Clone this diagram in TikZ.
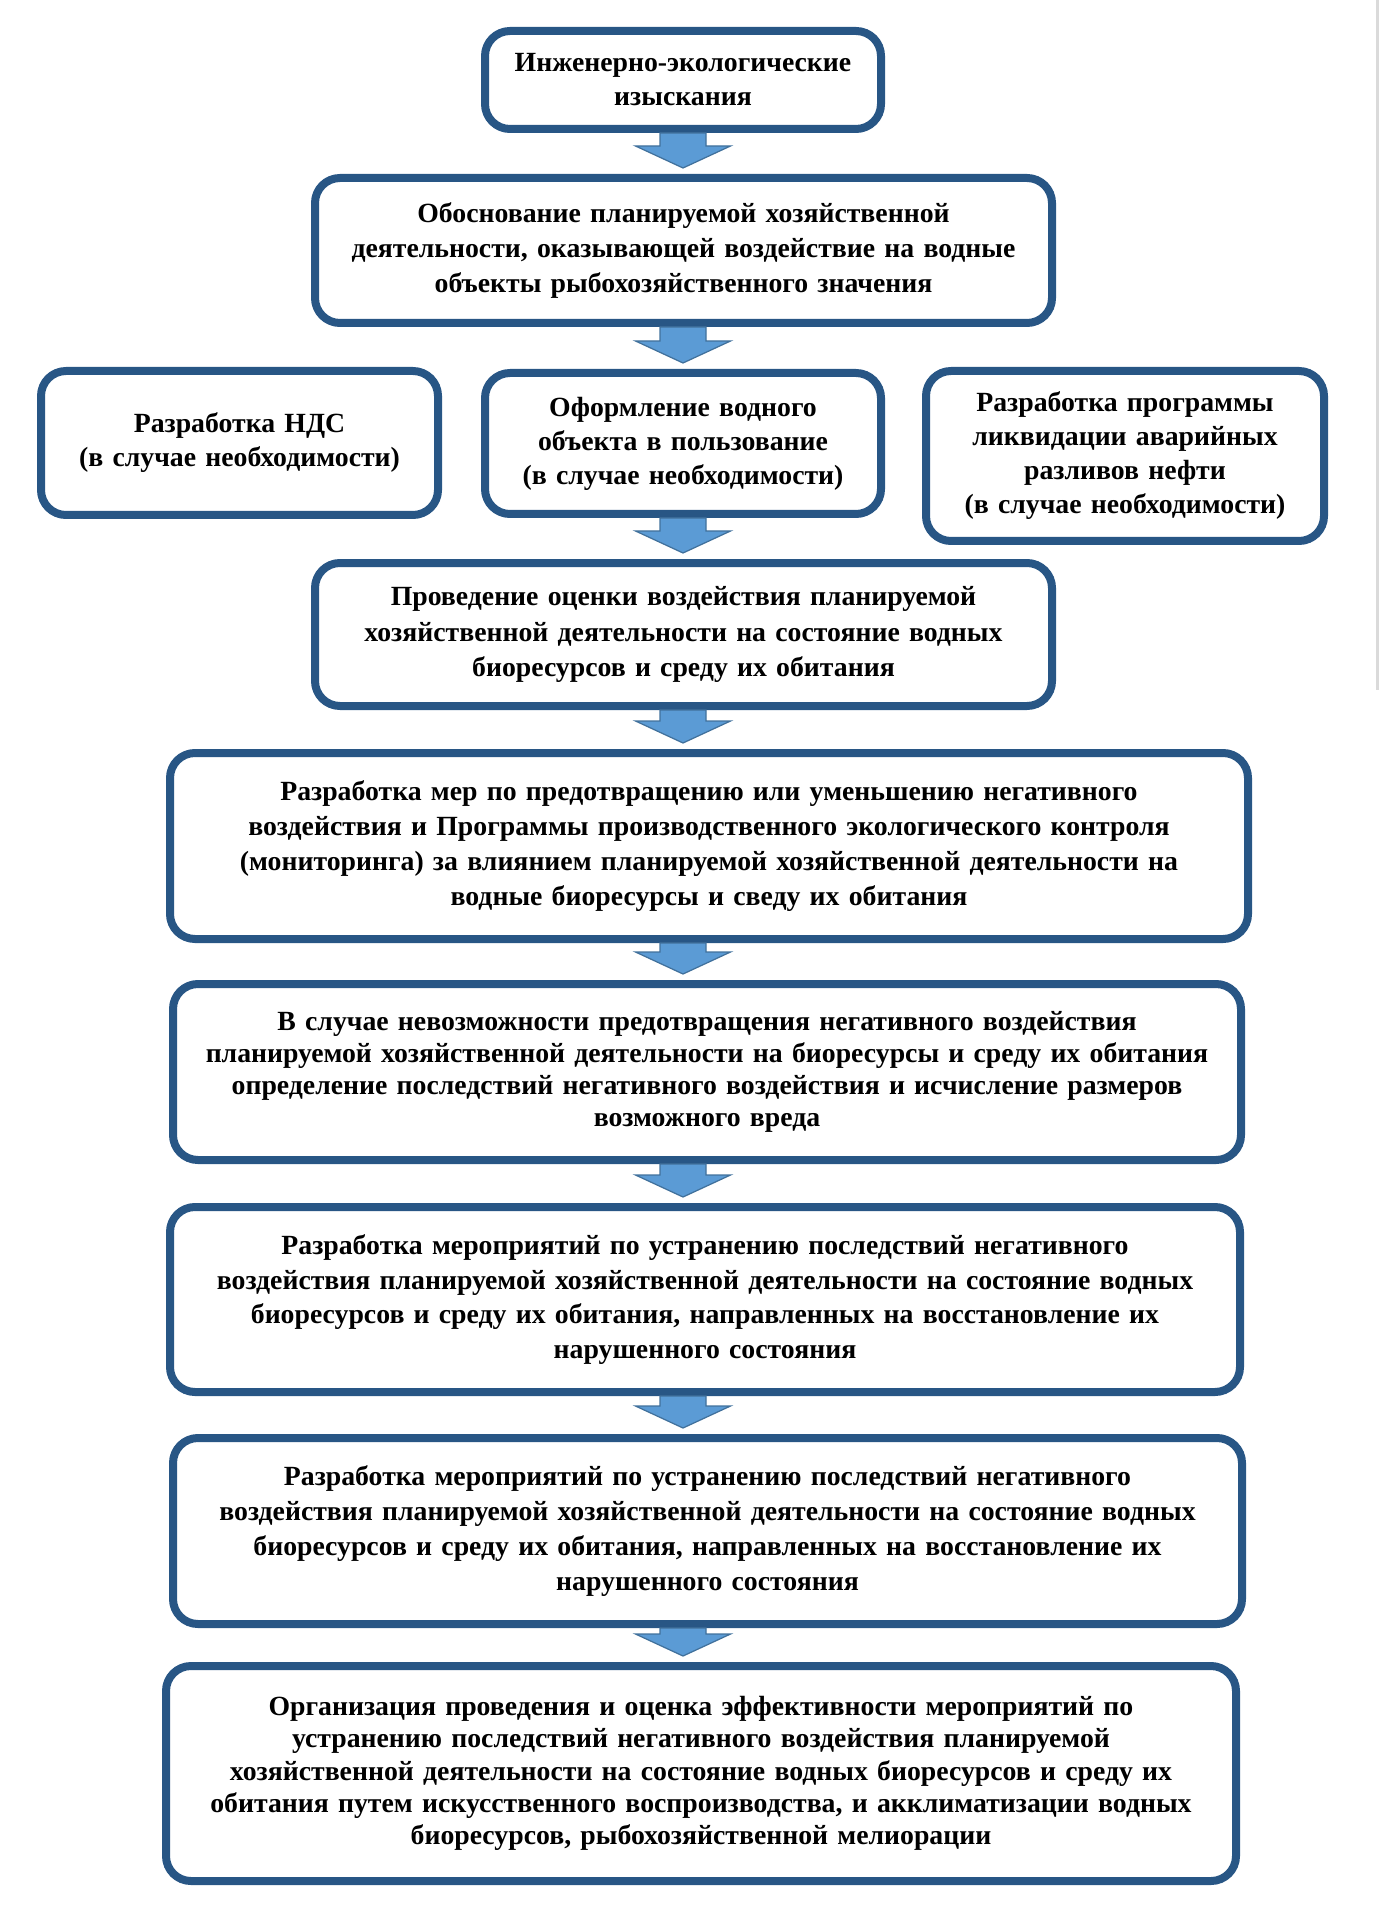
\documentclass[tikz,border=0pt]{standalone}
\usepackage{fontspec}
\setmainfont{Liberation Serif}
\usetikzlibrary{calc}
\definecolor{boxline}{HTML}{285685}
\definecolor{arrfill}{HTML}{5B9BD5}
\definecolor{arrline}{HTML}{41719C}
\definecolor{edgegray}{HTML}{DADADA}
\newcommand\fatarrow[2]{%
  \path[draw=arrline,fill=arrfill,line width=0.5pt]
    let \p0=(b1.south), \p1=(#1.south), \p2=(#2.north) in
    (\x0-9.2pt,\y1) -- (\x0+9.2pt,\y1) -- (\x0+9.2pt,\y2+11.2pt) --
    (\x0+19pt,\y2+11.2pt) -- (\x0,\y2+2.4pt) -- (\x0-19pt,\y2+11.2pt) --
    (\x0-9.2pt,\y2+11.2pt) -- cycle;}
\begin{document}
\begin{tikzpicture}[x=0.4pt,y=-0.4pt,
  box/.style={draw=boxline,line width=3.2pt,rounded corners=10pt,fill=white,
    align=center,inner xsep=0pt,inner ysep=0pt,
    font=\fontsize{11.1pt}{13.6pt}\selectfont\bfseries},
  ]
\useasboundingbox (0,0) rectangle (1381,1910);
\draw[edgegray,line width=1.2pt] (1377,0) -- (1377,690);
\node[box,minimum width=396*0.4pt,minimum height=98*0.4pt,text width=360*0.4pt] (b1) at (683,80)
  {Инженерно-экологические\\изыскания};
\node[box,minimum width=737*0.4pt,minimum height=145*0.4pt,text width=700*0.4pt,
  font=\fontsize{11.1pt}{14.1pt}\selectfont\bfseries] (b2) at (683.5,250.5)
  {Обоснование планируемой хозяйственной\\деятельности, оказывающей воздействие на водные\\объекты рыбохозяйственного значения};
\node[box,minimum width=397*0.4pt,minimum height=144*0.4pt,text width=370*0.4pt] (b3l) at (239.5,443)
  {Разработка НДС\\(в случае необходимости)};
\node[box,minimum width=396*0.4pt,minimum height=141*0.4pt,text width=370*0.4pt] (b3m) at (683,443.5)
  {Оформление водного\\объекта в пользование\\(в случае необходимости)};
\node[box,minimum width=398*0.4pt,minimum height=170*0.4pt,text width=370*0.4pt] (b3r) at (1125,456)
  {Разработка программы\\ликвидации аварийных\\разливов нефти\\(в случае необходимости)};
\node[box,minimum width=737*0.4pt,minimum height=143*0.4pt,text width=700*0.4pt,
  font=\fontsize{11.1pt}{14.1pt}\selectfont\bfseries] (b4) at (683.5,634.5)
  {Проведение оценки воздействия планируемой\\хозяйственной деятельности на состояние водных\\биоресурсов и среду их обитания};
\node[box,minimum width=1078*0.4pt,minimum height=186*0.4pt,text width=1040*0.4pt,
  font=\fontsize{11.1pt}{13.9pt}\selectfont\bfseries] (b5) at (709,846)
  {Разработка мер по предотвращению или уменьшению негативного\\воздействия и Программы производственного экологического контроля\\(мониторинга) за влиянием планируемой хозяйственной деятельности на\\водные биоресурсы и сведу их обитания};
\node[box,minimum width=1068*0.4pt,minimum height=176*0.4pt,text width=1040*0.4pt,
  font=\fontsize{11.1pt}{12.8pt}\selectfont\bfseries] (b6) at (707,1072)
  {В случае невозможности предотвращения негативного воздействия\\планируемой хозяйственной деятельности на биоресурсы и среду их обитания\\определение последствий негативного воздействия и исчисление размеров\\возможного вреда};
\node[box,minimum width=1070*0.4pt,minimum height=185*0.4pt,text width=1040*0.4pt,
  font=\fontsize{11.1pt}{13.9pt}\selectfont\bfseries] (b7) at (705,1299.5)
  {Разработка мероприятий по устранению последствий негативного\\воздействия планируемой хозяйственной деятельности на состояние водных\\биоресурсов и среду их обитания, направленных на восстановление их\\нарушенного состояния};
\node[box,minimum width=1069*0.4pt,minimum height=186*0.4pt,text width=1040*0.4pt,
  font=\fontsize{11.1pt}{13.9pt}\selectfont\bfseries] (b8) at (707.5,1531)
  {Разработка мероприятий по устранению последствий негативного\\воздействия планируемой хозяйственной деятельности на состояние водных\\биоресурсов и среду их обитания, направленных на восстановление их\\нарушенного состояния};
\node[box,minimum width=1070*0.4pt,minimum height=215*0.4pt,text width=1040*0.4pt,
  font=\fontsize{11.1pt}{12.9pt}\selectfont\bfseries] (b9) at (701,1773.5)
  {Организация проведения и оценка эффективности мероприятий по\\устранению последствий негативного воздействия планируемой\\хозяйственной деятельности на состояние водных биоресурсов и среду их\\обитания путем искусственного воспроизводства, и акклиматизации водных\\биоресурсов, рыбохозяйственной мелиорации};
\fatarrow{b1}{b2}
\fatarrow{b2}{b3m}
\fatarrow{b3m}{b4}
\fatarrow{b4}{b5}
\fatarrow{b5}{b6}
\fatarrow{b6}{b7}
\fatarrow{b7}{b8}
\fatarrow{b8}{b9}
\end{tikzpicture}
\end{document}
